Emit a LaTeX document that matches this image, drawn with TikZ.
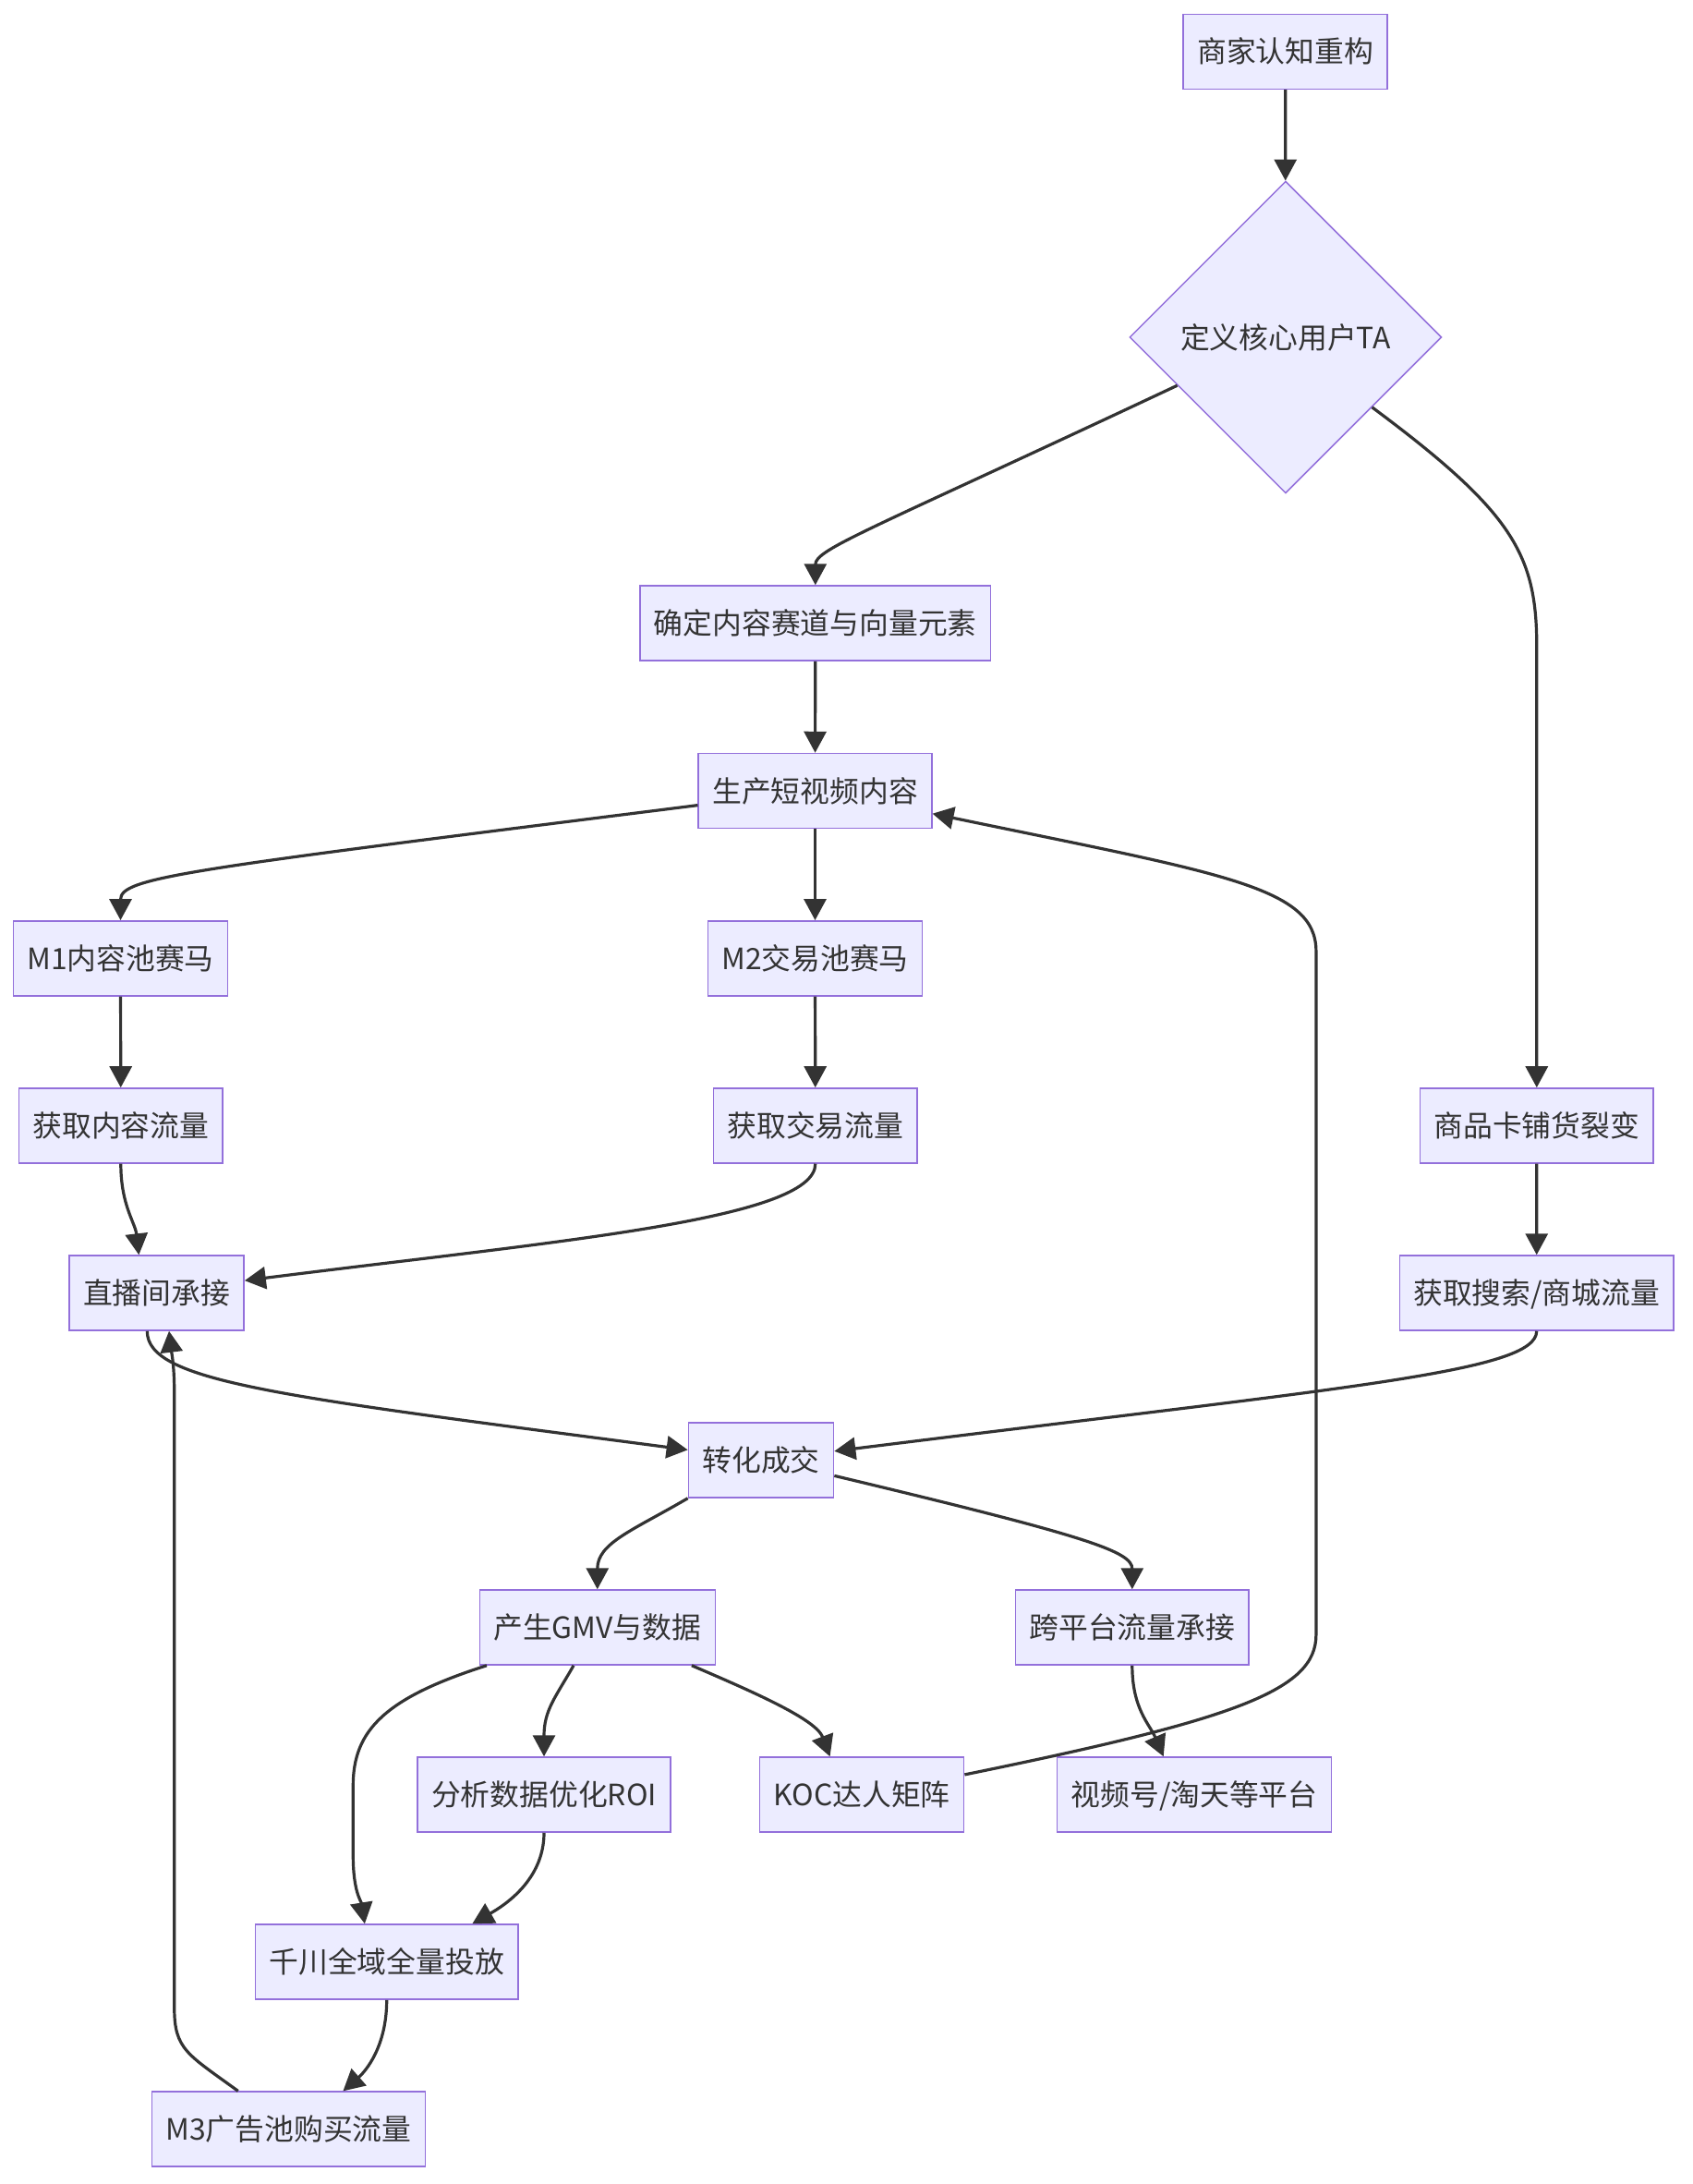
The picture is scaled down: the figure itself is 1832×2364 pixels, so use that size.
\documentclass[tikz,border=0pt]{standalone}
\usepackage{fontspec}
\setmainfont{Noto Sans CJK SC}
\usetikzlibrary{arrows.meta,shapes.geometric}
\definecolor{boxfill}{HTML}{ECECFF}
\definecolor{boxline}{HTML}{9370DB}
\definecolor{ink}{HTML}{333333}
\tikzstyle{process} = [
  draw=boxline,
  fill=boxfill,
  line width=1.5pt,
  rectangle,
  minimum height=81pt,
  inner xsep=15pt,
  text=ink,
  text height=28pt,
  text depth=4pt,
  font={\fontsize{31.8}{38}\selectfont},
]
\tikzstyle{decision} = [
  process,
  diamond,
  aspect=1,
  inner sep=0pt,
  minimum width=337.7pt,
  minimum height=337.7pt,
]
\tikzstyle{link} = [
  draw=ink,
  line width=3.2pt,
  -{Triangle[length=23pt,width=24pt]},
]
\begin{document}
\begin{tikzpicture}[
    x=1pt,
    y=-1pt,
  ]
  \useasboundingbox[fill=white] (0,0) rectangle (1832,2364);
  % nodes, row by row
  \node[process] (merchant) at (1391.6,55.8) {商家认知重构};
  \node[decision] (ta) at (1391.9,365) {定义核心用户TA};
  \node[process] (track) at (882.8,674.5) {确定内容赛道与向量元素};
  \node[process] (video) at (882.5,856) {生产短视频内容};
  \node[process] (mone) at (130.5,1037.3) {M1内容池赛马};
  \node[process] (mtwo) at (882.5,1037.3) {M2交易池赛马};
  \node[process] (ctraffic) at (130.8,1218.4) {获取内容流量};
  \node[process] (ttraffic) at (882.8,1218.4) {获取交易流量};
  \node[process] (card) at (1663.8,1218.4) {商品卡铺货裂变};
  \node[process] (live) at (169.6,1399.5) {直播间承接};
  \node[process] (search) at (1663.7,1399.5) {获取搜索/商城流量};
  \node[process] (deal) at (824,1580.5) {转化成交};
  \node[process] (gmv) at (646.8,1761.5) {产生GMV与数据};
  \node[process] (cross) at (1225.8,1761.5) {跨平台流量承接};
  \node[process] (roi) at (589,1942.5) {分析数据优化ROI};
  \node[process] (koc) at (933.2,1942.5) {KOC达人矩阵};
  \node[process] (platform) at (1293.1,1942.5) {视频号/淘天等平台};
  \node[process] (qianchuan) at (418.7,2123.5) {千川全域全量投放};
  \node[process] (mthree) at (312.5,2304.6) {M3广告池购买流量};
  % connectors
  \path [link] (merchant) -- (ta);
  \path [link] (ta.204) .. controls +(-334,157) and +(0,-39) .. (track.north);
  \path [link] (ta.-39) .. controls +(152.5,113.4) and +(0,-100) .. (card.north |- 0,700) -- (card.north);
  \path [link] (track) -- (video);
  \path [link] (video.187) .. controls +(-555.5,70) and +(0,-46.6) .. (mone.north);
  \path [link] (video) -- (mtwo);
  \path [link] (mone) -- (ctraffic);
  \path [link] (mtwo) -- (ttraffic);
  \path [link] (card) -- (search);
  \path [link] (ctraffic.south) .. controls +(0,45) and +(-4,-35) .. (live.115);
  \path [link] (ttraffic.south) .. controls +(0,60.7) and +(335.5,-42.5) .. (live.8);
  \path [link] (live.256) .. controls +(0,54.5) and +(-446,-58.5) .. (deal.172);
  \path [link] (search.south) .. controls +(0,44.5) and +(555.5,-69.4) .. (deal.7);
  \path [link] (deal.south west) .. controls +(-60,35) and +(0,-50) .. (gmv.north);
  \path [link] (deal.-12) .. controls +(272.4,65) and +(0,-41) .. (cross.north);
  \path [link] (gmv.199) .. controls +(-110,35) and +(0,-60) .. ++(-144.7,130)
    -- ++(0,75) .. controls +(0,40) and +(-4,-25) .. (qianchuan.120);
  \path [link] (gmv.238) .. controls +(-20,35) and +(0,-50) .. (roi.north);
  \path [link] (gmv.-22) .. controls +(70,30) and +(-15,-40) .. (koc.130);
  \path [link] (roi.south) .. controls +(0,51) and +(35,-20) .. (qianchuan.24);
  \path [link] (qianchuan.south) .. controls +(0,50) and +(25,-22) .. (mthree.35);
  \path [link] (mthree.143) .. controls +(-55,-40) and +(0,45) .. ++(-69,-90)
    -- ++(0,-665) .. controls +(0,-30) and +(3,25) .. (live.288);
  \path [link] (cross.south) .. controls +(0,47) and +(-15,-35) .. (platform.129);
  \path [link] (koc.11) .. controls +(294,-60) and +(0,60) .. ++(380.5,-151.3)
    -- ++(0,-740) .. controls +(0,-70) and +(313,65) .. (video.-11);
\end{tikzpicture}
\end{document}
